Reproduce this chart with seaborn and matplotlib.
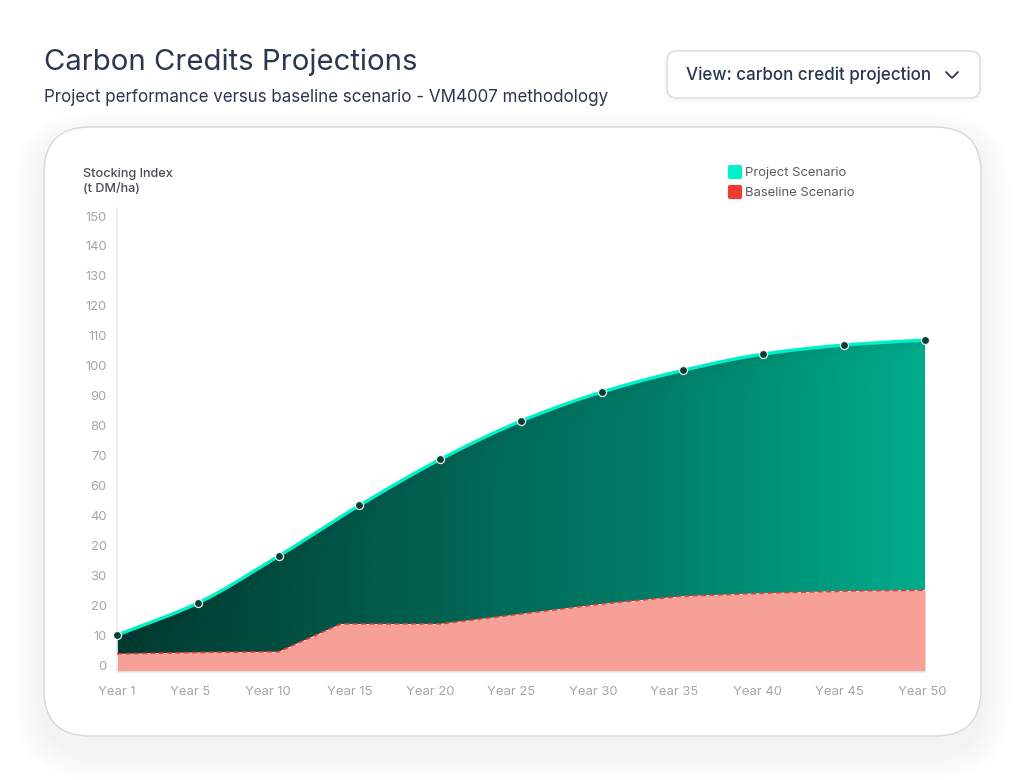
import matplotlib
matplotlib.use('Agg')
import matplotlib.pyplot as plt
import matplotlib.transforms as mtrans
from matplotlib.colors import LinearSegmentedColormap
from matplotlib.lines import Line2D
from matplotlib.markers import MarkerStyle
from matplotlib.patches import FancyBboxPatch, PathPatch
from matplotlib.path import Path
import seaborn as sns
import pandas as pd
import numpy as np

# Values
year_labels = ['Year 1', 'Year 5', 'Year 10', 'Year 15', 'Year 20', 'Year 25',
               'Year 30', 'Year 35', 'Year 40', 'Year 45', 'Year 50']
year_pos = [0, 1, 2, 3, 4, 5, 6, 7, 8, 9, 10]
project_values = [10.0, 20.7, 36.4, 53.3, 68.7, 81.5, 91.2, 98.4, 103.9, 106.9, 108.6]
# baseline has one extra knot where the step up ends, between Year 10 and Year 15
baseline_pos = [0, 1, 2, 2.77, 3, 4, 5, 6, 7, 8, 9, 10]
baseline_values = [3.7, 4.2, 4.4, 13.7, 13.7, 13.7, 17.0, 20.4, 23.0, 24.0, 24.7, 25.0]
y_ticks = [0, 10, 20, 30, 40, 50, 60, 70, 80, 90, 100, 110, 120, 130, 140, 150]
# the reference really prints these labels on the axis (20 and 40 out of order), kept as is
y_tick_labels = ['0', '10', '20', '30', '20', '40', '60', '70', '80', '90',
                 '100', '110', '120', '130', '140', '150']

W, H = 1025, 780
TEAL = '#00f0c8'
RED = '#ee3b30'
NAVY = '#2b3650'

sns.set_theme(style='white')
plt.rcParams['font.family'] = ['Inter', 'DejaVu Sans']


def smooth(x, y, n=600):
    """Monotone cubic (Fritsch-Carlson) through the read values, only for drawing"""
    x = np.asarray(x, float)
    y = np.asarray(y, float)
    h = np.diff(x)
    d = np.diff(y) / h
    m = np.zeros_like(y)
    m[0], m[-1] = d[0], d[-1]
    for i in range(1, len(x) - 1):
        if d[i - 1] * d[i] > 0:
            w1 = 2 * h[i] + h[i - 1]
            w2 = h[i] + 2 * h[i - 1]
            m[i] = (w1 + w2) / (w1 / d[i - 1] + w2 / d[i])
    xs = np.linspace(x[0], x[-1], n)
    idx = np.clip(np.searchsorted(x, xs, side='right') - 1, 0, len(h) - 1)
    t = (xs - x[idx]) / h[idx]
    ys = ((2 * t**3 - 3 * t**2 + 1) * y[idx] + (t**3 - 2 * t**2 + t) * h[idx] * m[idx]
          + (-2 * t**3 + 3 * t**2) * y[idx + 1] + (t**3 - t**2) * h[idx] * m[idx + 1])
    return xs, ys


def soft_box(ax, x0, y0, x1, y1, r, steps=12, spread=30, dy=14, alpha=0.0028):
    # stacked translucent boxes stand in for a css box-shadow
    for i in range(steps):
        g = spread * (i + 1) / steps
        ax.add_patch(FancyBboxPatch((x0 - g, y0 - g + dy), x1 - x0 + 2 * g, y1 - y0 + 2 * g,
                                    boxstyle=f'round,pad=0,rounding_size={r + g}',
                                    fc='#1c2540', ec='none', alpha=alpha))


fig = plt.figure(figsize=(W / 100, H / 100), dpi=100, facecolor='white')

# page layer in pixel coordinates: card, dropdown, headings
page = fig.add_axes([0, 0, 1, 1])
page.set_xlim(0, W)
page.set_ylim(H, 0)
page.axis('off')

soft_box(page, 44, 127, 981, 736, 46)
page.add_patch(FancyBboxPatch((44, 127), 937, 609, boxstyle='round,pad=0,rounding_size=46',
                              fc='white', ec='#d6d8de', lw=1.0))
soft_box(page, 667, 51, 980, 98, 10, steps=4, spread=4, dy=2, alpha=0.006)
page.add_patch(FancyBboxPatch((667, 51), 313, 47, boxstyle='round,pad=0,rounding_size=10',
                              fc='white', ec='#d9dbe2', lw=1.0))
page.text(44, 62.5, 'Carbon Credits Projections', fontsize=21.1, fontweight='normal',
          color=NAVY, va='center', ha='left')
page.text(44, 97.5, 'Project performance versus baseline scenario - VM4007 methodology',
          fontsize=12.24, fontweight='normal', color=NAVY, va='center', ha='left')
page.text(686, 75.5, 'View: carbon credit projection', fontsize=12.25, fontweight='medium',
          color=NAVY, va='center', ha='left')
page.plot([946, 952, 958], [72, 78, 72], color=NAVY, lw=1.3,
          solid_capstyle='round', solid_joinstyle='round')
page.text(83, 174.5, 'Stocking Index', fontsize=9.1, fontweight='medium',
          color='#4a4d55', va='center', ha='left')
page.text(83, 189.5, '(t DM/ha)', fontsize=9.1, fontweight='medium',
          color='#4a4d55', va='center', ha='left')

# chart axes: 0 sits 6.5px above the floor of the plot, as in the reference
left, right, top, bottom = 117, 925, 208, 671.5
ax = fig.add_axes([left / W, 1 - bottom / H, (right - left) / W, (bottom - top) / H])
ax.patch.set_alpha(0)
px_per_unit = 2.993
y_top = (665 - top) / px_per_unit
y_bottom = (665 - bottom) / px_per_unit

xs, proj_smooth = smooth(year_pos, project_values)
base_smooth = np.interp(xs, baseline_pos, baseline_values)

# gradient fill between the two curves, dark on the left, darker just under the line
gx = np.linspace(0, 1, 500)
gy = np.linspace(y_top, y_bottom, 500)
shade = gx[None, :] * np.ones((500, 500))
depth = (np.interp(gx * 10, xs, proj_smooth)[None, :] - gy[:, None]) * px_per_unit
shade = shade - 0.08 * np.exp(-np.clip(depth, 0, None) / 7)
cmap = LinearSegmentedColormap.from_list('proj', ['#003a30', '#025c4d', '#007d68', '#00ac8c'])
im = ax.imshow(shade, extent=[0, 10, y_bottom, y_top], aspect='auto', cmap=cmap,
               vmin=0, vmax=1, zorder=1)
poly = np.vstack([np.column_stack([xs, proj_smooth]), np.column_stack([xs, base_smooth])[::-1]])
clip = PathPatch(Path(poly), transform=ax.transData, fc='none', ec='none')
ax.add_patch(clip)
im.set_clip_path(clip)

ax.fill_between(xs, y_bottom, base_smooth, color='#f6a097', lw=0, zorder=2)

curves = pd.DataFrame({'x': xs, 'project': proj_smooth, 'baseline': base_smooth})
points = pd.DataFrame({'x': year_pos, 'project': project_values})
sns.lineplot(data=curves, x='x', y='baseline', ax=ax, color=RED, lw=1.2,
             linestyle=(0, (3, 2)), zorder=3, errorbar=None)
sns.lineplot(data=curves, x='x', y='project', ax=ax, color=TEAL, lw=2.4, zorder=4,
             errorbar=None, clip_on=False)
sns.scatterplot(data=points, x='x', y='project', ax=ax, s=34, color='#0a3d33',
                edgecolor='#e8f2f0', linewidth=0.9, zorder=5, clip_on=False)

ax.set_xlim(0, 10)
ax.set_ylim(y_bottom, y_top)
ax.set_xlabel('')
ax.set_ylabel('')
ax.set_yticks(y_ticks)
ax.set_yticklabels(y_tick_labels)
ax.set_xticks(year_pos)
ax.set_xticklabels(year_labels)
ax.tick_params(axis='both', length=0, labelsize=9.4, labelcolor='#a6a6a6')
ax.tick_params(axis='y', pad=7.5)
ax.tick_params(axis='x', pad=10.5)

# x labels sit left of their points in the reference, less so further right
label_shift = [0, -8, -11, -10, -10, -10, -9, -8, -6, -5, -3]
for lab, dx in zip(ax.get_xticklabels(), label_shift):
    lab.set_transform(lab.get_transform()
                      + mtrans.ScaledTranslation(dx / 100, 0, fig.dpi_scale_trans))
for s in ['top', 'right']:
    ax.spines[s].set_visible(False)
for s in ['left', 'bottom']:
    ax.spines[s].set_color('#ececee')
    ax.spines[s].set_linewidth(1.2)

swatch = MarkerStyle('s', joinstyle='round')
handles = [Line2D([], [], ls='none', marker=swatch, ms=6.5, mew=3.0, color=TEAL, label='Project Scenario'),
           Line2D([], [], ls='none', marker=swatch, ms=6.5, mew=3.0, color=RED, label='Baseline Scenario')]
leg = fig.legend(handles=handles, loc='upper left', bbox_to_anchor=(725 / W, 1 - 167 / H),
                 frameon=False, fontsize=9.4, labelspacing=0.6, handletextpad=-0.05,
                 handlelength=1.6, borderpad=0, borderaxespad=0, labelcolor='#5a5d65')

fig.savefig('out.png', dpi=100)
